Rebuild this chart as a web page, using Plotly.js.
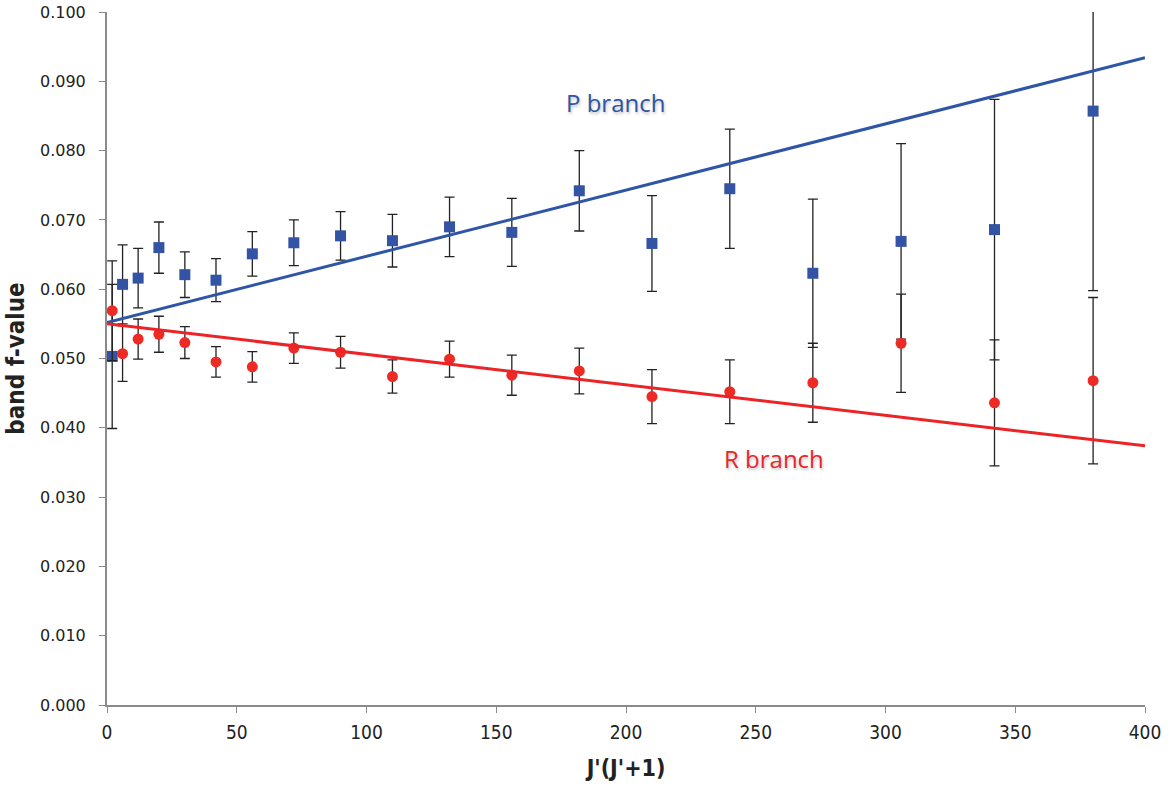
<!DOCTYPE html>
<html>
<head>
<meta charset="utf-8">
<script src="https://cdn.plot.ly/plotly-3.0.1.min.js"></script>
<style>html,body{margin:0;padding:0;background:#fff;}#chart{width:1170px;height:789px;}</style>
</head>
<body>
<div id="chart"></div>
<script>
// J'(J'+1) values
const jValues = [2, 6, 12, 20, 30, 42, 56, 72, 90, 110, 132, 156, 182, 210, 240, 272, 306, 342, 380];
// P branch band f-values and errors
const pValues = [0.0503, 0.0607, 0.0616, 0.0660, 0.0621, 0.0613, 0.0651, 0.0667, 0.0677, 0.0670, 0.0690, 0.0682, 0.0742, 0.0666, 0.0745, 0.0623, 0.0669, 0.0686, 0.0857];
const pErrors = [0.0104, 0.0057, 0.0043, 0.0037, 0.0033, 0.0031, 0.0032, 0.0033, 0.0035, 0.0038, 0.0043, 0.0049, 0.0058, 0.0069, 0.0086, 0.0107, 0.0141, 0.0188, 0.0259];
// R branch band f-values and errors
const rValues = [0.0569, 0.0507, 0.0528, 0.0535, 0.0523, 0.0495, 0.0488, 0.0515, 0.0509, 0.0474, 0.0499, 0.0476, 0.0482, 0.0445, 0.0452, 0.0465, 0.0522, 0.0436, 0.0468];
const rErrors = [0.0072, 0.0040, 0.0029, 0.0026, 0.0023, 0.0022, 0.0022, 0.0022, 0.0023, 0.0024, 0.0026, 0.0029, 0.0033, 0.0039, 0.0046, 0.0057, 0.0071, 0.0091, 0.0120];
// Linear fits
const fitX = [0, 400];
const fitP = [0.0552, 0.0934];
const fitR = [0.0550, 0.0374];
// Labels
const labelP = {text: 'P branch', x: 196, y: 0.0869};
const labelR = {text: 'R branch', x: 257, y: 0.0355};

const blue = '#2f55a6';
const red = '#ec2327';
const cond = 'DejaVu Sans Condensed, Liberation Sans Narrow, Arial Narrow, sans-serif';

const traces = [
  {x: jValues, y: pValues, type: 'scatter', mode: 'markers',
   marker: {symbol: 'square', size: 11, color: '#3354a4'},
   error_y: {type: 'data', array: pErrors, visible: true, color: '#222', thickness: 1.3, width: 5},
   showlegend: false},
  {x: jValues, y: rValues, type: 'scatter', mode: 'markers',
   marker: {symbol: 'circle', size: 11, color: '#ee2a24'},
   error_y: {type: 'data', array: rErrors, visible: true, color: '#222', thickness: 1.3, width: 5},
   showlegend: false},
  {x: fitX, y: fitP, type: 'scatter', mode: 'lines', line: {color: blue, width: 3}, showlegend: false},
  {x: fitX, y: fitR, type: 'scatter', mode: 'lines', line: {color: red, width: 3}, showlegend: false}
];

const layout = {
  width: 1170, height: 789,
  margin: {l: 107, r: 25, t: 12, b: 84},
  paper_bgcolor: '#fff', plot_bgcolor: '#fff',
  showlegend: false,
  xaxis: {
    range: [0, 400], tickmode: 'linear', tick0: 0, dtick: 50,
    showgrid: false, zeroline: false,
    showline: true, linecolor: '#8a8a8a', linewidth: 2,
    ticks: 'outside', ticklen: 6, tickcolor: '#8a8a8a', tickwidth: 1,
    ticklabelstandoff: 3,
    tickfont: {family: cond, size: 19, color: '#222'},
    title: {text: "J'(J'+1)", standoff: 18,
      font: {family: cond, size: 23, color: '#222', weight: 'bold'}}
  },
  yaxis: {
    range: [0, 0.1], tickmode: 'linear', tick0: 0, dtick: 0.01, tickformat: '.3f',
    showgrid: false, zeroline: false,
    showline: true, linecolor: '#8a8a8a', linewidth: 2,
    ticks: 'outside', ticklen: 6, tickcolor: '#8a8a8a', tickwidth: 1,
    ticklabelstandoff: 10,
    tickfont: {family: 'DejaVu Sans, Verdana, sans-serif', size: 16, color: '#222'},
    title: {text: 'band f-value', standoff: 9,
      font: {family: cond, size: 24, color: '#222', weight: 'bold'}}
  },
  annotations: [
    {x: labelP.x, y: labelP.y, xref: 'x', yref: 'y', text: labelP.text, showarrow: false,
     font: {family: 'Open Sans, sans-serif', size: 24, color: '#2f54a3', shadow: '1px 2px 3px rgba(0,0,0,0.25)'}},
    {x: labelR.x, y: labelR.y, xref: 'x', yref: 'y', text: labelR.text, showarrow: false,
     font: {family: 'Open Sans, sans-serif', size: 24, color: '#e8262a', shadow: '1px 2px 3px rgba(0,0,0,0.25)'}}
  ]
};

Plotly.newPlot('chart', traces, layout, {displayModeBar: false, staticPlot: true});
</script>
</body>
</html>
